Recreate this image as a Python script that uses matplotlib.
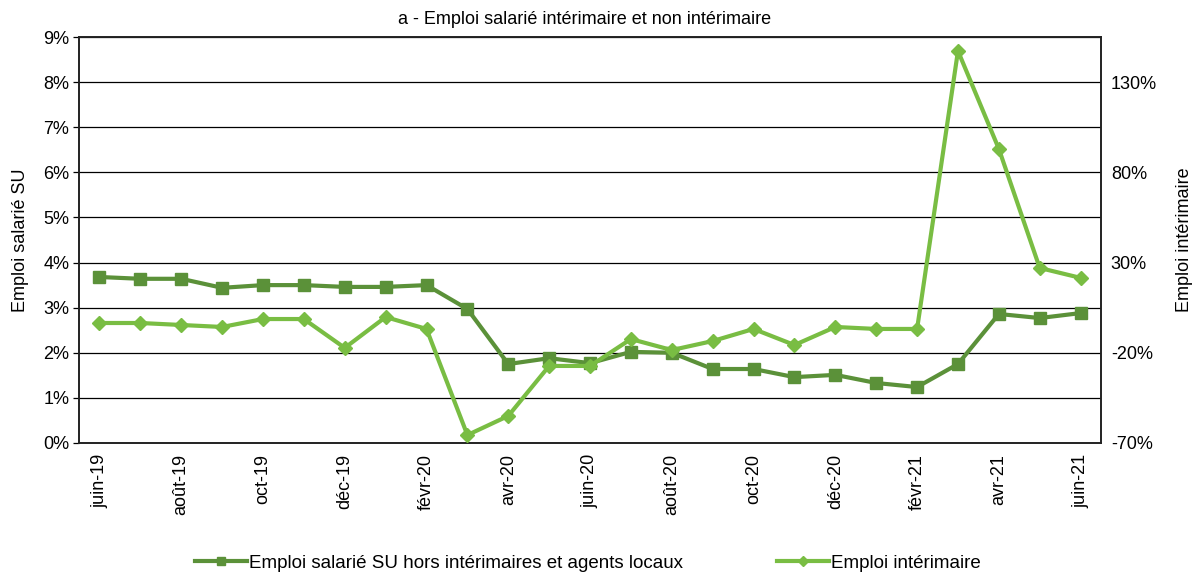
import matplotlib
matplotlib.use("Agg")
import matplotlib.pyplot as plt
from matplotlib.ticker import FuncFormatter, FixedLocator

plt.rcParams['font.family'] = ['Liberation Sans', 'DejaVu Sans']

months = ["juin-19", "juil-19", "août-19", "sept-19", "oct-19", "nov-19", "déc-19",
          "janv-20", "févr-20", "mars-20", "avr-20", "mai-20", "juin-20", "juil-20",
          "août-20", "sept-20", "oct-20", "nov-20", "déc-20", "janv-21", "févr-21",
          "mars-21", "avr-21", "mai-21", "juin-21"]

emploi_su = [3.68, 3.64, 3.64, 3.44, 3.50, 3.50, 3.46, 3.46, 3.50, 2.97, 1.75, 1.88,
             1.77, 2.02, 2.00, 1.64, 1.64, 1.46, 1.51, 1.33, 1.24, 1.75, 2.86, 2.77, 2.88]

emploi_interim = [-3.5, -3.5, -4.6, -5.7, -1.3, -1.3, -17.3, -0.2, -6.8, -65.6, -55.0,
                  -27.3, -27.3, -12.4, -18.5, -13.5, -6.8, -15.7, -5.7, -6.8, -6.8,
                  147.3, 93.0, 27.0, 21.5]

left_ticks = [0, 1, 2, 3, 4, 5, 6, 7, 8, 9]
right_ticks = [-70, -20, 30, 80, 130]

dark = "#5b9139"
light = "#79bd43"

fig = plt.figure(figsize=(11.92, 5.73), dpi=100)
ax = fig.add_axes([0.0663, 0.2269, 0.8574, 0.7085])
ax2 = ax.twinx()

x = list(range(len(months)))

ax.plot(x, emploi_su, color=dark, lw=3, marker="s", ms=8.5, zorder=3,
        label="Emploi salarié SU hors intérimaires et agents locaux")
ax2.plot(x, emploi_interim, color=light, lw=3, marker="D", ms=7, zorder=3,
         label="Emploi intérimaire")

ax.set_xlim(-0.5, len(months) - 0.5)
ax.set_ylim(0, 9)
ax2.set_ylim(-70, 155)

ax.yaxis.set_major_locator(FixedLocator(left_ticks))
ax.yaxis.set_major_formatter(FuncFormatter(lambda v, p: f"{v:.0f}%"))
ax2.yaxis.set_major_locator(FixedLocator(right_ticks))
ax2.yaxis.set_major_formatter(FuncFormatter(lambda v, p: f"{v:.0f}%"))

ax.grid(axis="y", color="black", lw=0.9, zorder=0)
ax.set_axisbelow(True)

ax.set_xticks(x[::2])
ax.set_xticklabels(months[::2], rotation=90, fontsize=13)
ax.tick_params(axis="x", length=0, pad=8)
ax.tick_params(axis="y", labelsize=13, length=4, width=0.9, direction="out", pad=3)
ax2.tick_params(axis="y", labelsize=13, length=0, pad=7)

for a in (ax, ax2):
    for s in a.spines.values():
        s.set_color("#222222")
        s.set_linewidth(1.2)

ax.set_ylabel("Emploi salarié SU", fontsize=13, labelpad=10)
ax2.set_ylabel("Emploi intérimaire", fontsize=13, labelpad=14)

fig.text(0.49, 0.966, "a - Emploi salarié intérimaire et non intérimaire",
         ha="center", va="center", fontsize=13)

h1, l1 = ax.get_legend_handles_labels()
h2, l2 = ax2.get_legend_handles_labels()
fig.legend(h1 + h2, l1 + l2, loc="center", bbox_to_anchor=(0.493, 0.017),
           ncol=2, frameon=False, fontsize=13.5, columnspacing=5.0,
           handlelength=2.8, handletextpad=0.1, markerscale=0.7)

fig.savefig("out.png", dpi=100)
